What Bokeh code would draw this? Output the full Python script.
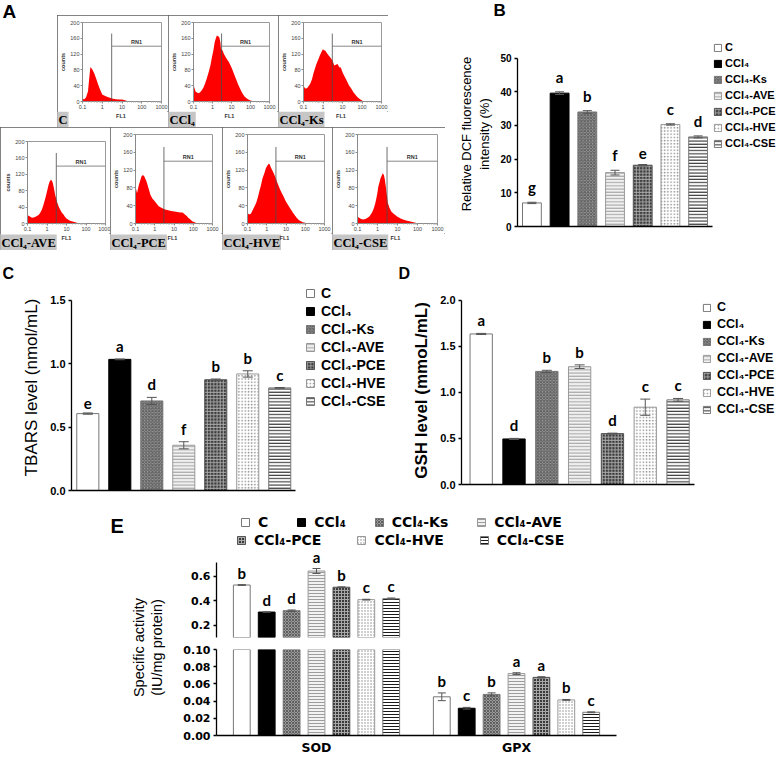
import math
from bokeh.plotting import figure
from bokeh.models import (Range1d, FactorRange, FixedTicker, Legend, LegendItem, Label,
                          Whisker, TeeHead, ColumnDataSource, PrintfTickFormatter,
                          CustomJSTickFormatter, Spacer)
from bokeh.layouts import row, column
from bokeh.transform import dodge
from bokeh.core.properties import value
from bokeh.embed import file_html
from bokeh.resources import INLINE

# ---------------- data ----------------
groups = ["C", "CCl₄", "CCl₄-Ks", "CCl₄-AVE", "CCl₄-PCE", "CCl₄-HVE", "CCl₄-CSE"]

# Panel A : flow-cytometry histograms (FL1 intensity, counts)
fl1_C = [0.1, 0.101, 0.12, 0.15, 0.19, 0.22, 0.25, 0.28, 0.33, 0.4, 0.49, 0.6, 0.72, 1.0, 1.5, 2.2, 3.5, 4.7, 7, 10, 14, 17, 20]
cnt_C = [110, 8, 5, 10, 26, 60, 87, 85, 79, 70, 58, 45, 34, 18, 13, 10, 7, 6, 5, 5, 3, 2, 0]
fl1_CCl4 = [0.1, 0.11, 0.13, 0.16, 0.19, 0.23, 0.28, 0.34, 0.41, 0.5, 0.63, 0.78, 0.93, 1.1, 1.3, 1.5, 1.7, 2.0, 2.3, 2.6,
            2.8, 3.1, 3.4, 4.0, 5.0, 6.0, 7.3, 8.8, 10.7, 13, 15.7, 19, 23, 28, 34, 41, 50, 60, 73, 88, 107, 130, 160]
cnt_CCl4 = [46, 35, 25, 22, 21, 24, 29, 36, 46, 58, 75, 92, 112, 128, 150, 160, 167, 165, 162, 150,
            133, 131, 129, 120, 112, 106, 100, 92, 83, 72, 62, 52, 42, 33, 25, 18, 12, 9, 6, 4, 2, 1, 0]
fl1_Ks = [0.1, 0.11, 0.13, 0.16, 0.22, 0.27, 0.32, 0.38, 0.46, 0.56, 0.68, 0.82, 1.0, 1.1, 1.3, 1.6, 2.0, 2.5, 3.1,
          3.8, 4.6, 5.6, 6.8, 8.2, 10, 12, 15, 18, 22, 27, 32, 38, 46, 56, 68, 82, 100, 110]
cnt_Ks = [40, 36, 32, 35, 45, 56, 70, 82, 95, 105, 116, 125, 133, 130, 129, 122, 116, 110, 103,
          91, 93, 95, 87, 86, 74, 66, 57, 49, 40, 34, 28, 22, 17, 12, 8, 5, 3, 0]
fl1_AVE = [0.1, 0.102, 0.12, 0.17, 0.23, 0.3, 0.37, 0.45, 0.55, 0.66, 0.8, 1.0, 1.17, 1.35, 1.6, 1.8, 2.0, 2.3,
           2.6, 3.2, 3.9, 4.7, 5.7, 7, 8.5, 10, 15, 23, 34, 45]
cnt_AVE = [34, 20, 18, 14, 15, 18, 21, 26, 34, 46, 60, 78, 92, 102, 107, 104, 98, 85,
           70, 54, 42, 34, 27, 22, 16, 12, 7, 4, 2, 0]
fl1_PCE = [0.1, 0.105, 0.12, 0.15, 0.18, 0.2, 0.24, 0.28, 0.32, 0.37, 0.42, 0.5, 0.6, 0.75, 1.0, 1.3, 1.6, 2.1,
           2.8, 3.8, 5.0, 7, 10.5, 15, 21, 28, 37, 46, 55, 67, 80, 98, 118, 140, 160]
cnt_PCE = [98, 80, 68, 87, 98, 105, 109, 107, 101, 95, 87, 76, 64, 56, 50, 44, 39, 36,
           33, 31, 30, 28, 27, 26, 25, 25, 20, 17, 13, 10, 7, 4, 3, 1, 0]
fl1_HVE = [0.1, 0.12, 0.15, 0.19, 0.23, 0.28, 0.34, 0.41, 0.5, 0.6, 0.75, 0.9, 1.1, 1.3, 1.45, 1.6, 1.9, 2.3, 2.8,
           3.4, 4.1, 5.0, 6.1, 7.4, 9, 11, 13, 16, 19, 23, 28, 34, 41, 50, 60, 73, 88, 107, 125]
cnt_HVE = [24, 20, 22, 31, 38, 46, 58, 72, 86, 101, 113, 124, 131, 135, 132, 127, 120, 113, 104,
           94, 85, 76, 68, 61, 53, 46, 41, 35, 30, 24, 19, 14, 10, 7, 5, 3, 2, 1, 0]
fl1_CSE = [0.1, 0.102, 0.12, 0.15, 0.19, 0.25, 0.32, 0.39, 0.46, 0.55, 0.66, 0.77, 0.88, 1.0, 1.1, 1.25, 1.4, 1.6,
           1.8, 2.0, 2.1, 2.3, 2.6, 2.9, 3.3, 4.0, 4.9, 6.0, 7.2, 10, 16, 27, 50, 90, 110]
cnt_CSE = [35, 15, 13, 10, 9, 10, 13, 16, 20, 26, 35, 45, 57, 70, 83, 92, 101, 107,
           113, 110, 109, 100, 83, 66, 46, 35, 27, 23, 20, 15, 10, 7, 4, 1, 0]
gate_fl1 = 3.0
gate_top = 172
rn1_count = 140
rn1_fl1 = 55
fl1_ticks = [0.1, 1, 10, 100, 1000]
count_ticks = [0, 40, 80, 120, 160, 200]

# Panel B : relative DCF fluorescence intensity (%)
dcf_vals = [7.0, 39.6, 34.0, 16.0, 18.2, 30.3, 26.6]
dcf_err = [0.2, 0.4, 0.4, 0.7, 0.2, 0.2, 0.3]
dcf_letters = ["g", "a", "b", "f", "e", "c", "d"]

# Panel C : TBARS level (nmol/mL)
tbars_vals = [0.607, 1.035, 0.707, 0.357, 0.874, 0.92, 0.81]
tbars_err = [0.005, 0.003, 0.028, 0.028, 0.006, 0.025, 0.003]
tbars_letters = ["e", "a", "d", "f", "b", "b", "c"]

# Panel D : GSH level (mmoL/mL)
gsh_vals = [1.636, 0.495, 1.229, 1.28, 0.553, 0.84, 0.92]
gsh_err = [0.006, 0.006, 0.012, 0.02, 0.005, 0.088, 0.015]
gsh_letters = ["a", "d", "b", "b", "d", "c", "c"]

# Panel E : specific activity (IU/mg protein)
enzymes = ["SOD", "GPX"]
sod_vals = [0.527, 0.307, 0.318, 0.641, 0.509, 0.408, 0.416]
sod_err = [0.003, 0.002, 0.006, 0.02, 0.003, 0.003, 0.005]
sod_letters = ["b", "d", "d", "a", "b", "c", "c"]
gpx_vals = [0.045, 0.0317, 0.0478, 0.072, 0.0676, 0.0414, 0.027]
gpx_err = [0.0045, 0.001, 0.0018, 0.001, 0.0008, 0.0005, 0.0005]
gpx_letters = ["b", "c", "b", "a", "a", "b", "c"]

# ---------------- styles ----------------
fills = ["white", "black", "#9a9a9a", "#f2f2f2", "#3a3a3a", "white", "white"]
hatches = [" ", " ", "x", "-", "+", ".", "-"]
hatch_colors = ["white", "black", "#5f5f5f", "#9c9c9c", "#a8a8a8", "#8a8a8a", "#1a1a1a"]
line_colors = ["#777777", "black", "#777777", "#999999", "#555555", "#999999", "#777777"]

SANS = "Liberation Sans"
WIDE = "DejaVu Sans"
BOX = {"outline": "1px solid #5a5a5a", "outline-offset": "-1px"}


def fig(**kw):
    return figure(output_backend="svg", toolbar_location=None, **kw)


def blank(w, h):
    p = fig(width=w, height=h, x_range=Range1d(0, 1), y_range=Range1d(0, 1), min_border=0,
            x_axis_location=None, y_axis_location=None)
    p.grid.visible = False
    p.outline_line_color = None
    return p


def tag(p, x, y, text, size):
    p.add_layout(Label(x=x, y=y, x_units="screen", y_units="screen", text=text, text_font=SANS,
                       text_font_style="bold", text_font_size=size, text_baseline="top", text_align="left",
                       text_color="black"))


# ---------------- Panel A ----------------
def hist_box(w, h_fig, h_strip, bl, br, bt, bb, fl1, cnt, name):
    p = fig(width=w, height=h_fig, x_axis_type="log", x_range=Range1d(0.1, 1000), y_range=Range1d(0, 200),
            min_border_left=bl, min_border_right=br, min_border_top=bt, min_border_bottom=bb)
    p.grid.visible = False
    p.outline_line_color = "#9a9a9a"
    p.varea(x=fl1, y1=0, y2=cnt, fill_color="#ff0000")
    p.segment(x0=[gate_fl1], y0=[0], x1=[gate_fl1], y1=[gate_top], line_color="#4a4a4a", line_width=0.8)
    p.segment(x0=[gate_fl1], y0=[rn1_count], x1=[1000], y1=[rn1_count], line_color="#6a6a6a", line_width=0.8)
    p.text(x=[rn1_fl1], y=[rn1_count], text=["RN1"], text_align="center", text_baseline="bottom",
           y_offset=-1, text_font=value(SANS), text_font_size="5.5px", text_font_style="bold", text_color="#333333")
    minor = [m * d for d in (0.1, 1, 10, 100) for m in range(2, 10)]
    p.xaxis.ticker = FixedTicker(ticks=fl1_ticks, minor_ticks=minor)
    p.xaxis.formatter = CustomJSTickFormatter(code="return String(tick);")
    p.yaxis.ticker = FixedTicker(ticks=count_ticks)
    p.yaxis.axis_label = "counts"
    for ax in p.axis:
        ax.axis_line_color = "#8a8a8a"
        ax.major_tick_line_color = "#8a8a8a"
        ax.minor_tick_line_color = "#aaaaaa"
        ax.major_tick_out = 2
        ax.major_tick_in = 0
        ax.minor_tick_out = 1
        ax.minor_tick_in = 0
        ax.major_label_text_font = SANS
        ax.major_label_text_font_size = "5.5px"
        ax.major_label_text_color = "#444444"
        ax.major_label_standoff = 1
        ax.axis_label_text_font = SANS
        ax.axis_label_text_font_size = "5.5px"
        ax.axis_label_text_font_style = "bold"
        ax.axis_label_text_color = "#333333"
        ax.axis_label_standoff = 1
    s = blank(w, h_strip)
    s.add_layout(Label(x=0, y=0, x_units="screen", y_units="screen", text=name,
                       text_font="Liberation Serif", text_font_style="bold", text_font_size="12.5px",
                       text_color="black", text_align="left", text_baseline="bottom",
                       background_fill_color="#c6c6c6", padding=1))
    s.add_layout(Label(x=bl + (w - bl - br) / 2, y=h_strip - 1, x_units="screen", y_units="screen", text="FL1",
                       text_font=SANS, text_font_style="bold", text_font_size="5.5px", text_color="#333333",
                       text_align="center", text_baseline="top"))
    return column(row(p), row(s), styles=BOX)


hist_data = [(fl1_C, cnt_C), (fl1_CCl4, cnt_CCl4), (fl1_Ks, cnt_Ks), (fl1_AVE, cnt_AVE),
             (fl1_PCE, cnt_PCE), (fl1_HVE, cnt_HVE), (fl1_CSE, cnt_CSE)]
box_specs = [(111, 96, 16, 23, 7, 7, 9), (110, 96, 16, 21, 9, 7, 9), (110, 96, 16, 22, 7, 7, 9),
             (110, 106, 17, 27, 5, 14, 9), (112, 106, 17, 22, 10, 7, 9), (110, 106, 17, 22, 8, 7, 9),
             (113, 106, 17, 21, 8, 7, 9)]
boxes = [hist_box(*box_specs[i], hist_data[i][0], hist_data[i][1], groups[i]) for i in range(7)]

fa = blank(57, 127)
tag(fa, 2, 127, "A", "19px")
top_line = row(fa, column(Spacer(width=331, height=15), row(*boxes[:3])), Spacer(width=57, height=127))
A_block = column(top_line, row(*boxes[3:]), Spacer(width=445, height=6))


# ---------------- bar panels ----------------
def style_axes(p, tick_size, tick_font=SANS):
    p.grid.visible = False
    p.outline_line_color = None
    for ax in p.axis:
        ax.axis_line_color = "black"
        ax.axis_line_width = 1.3
        ax.major_tick_line_color = "black"
        ax.major_tick_line_width = 1.3
        ax.major_tick_out = 3
        ax.major_tick_in = 0
        ax.minor_tick_line_color = None
        ax.major_label_text_font = tick_font
        ax.major_label_text_font_size = tick_size
        ax.major_label_text_font_style = "bold"
        ax.major_label_text_color = "black"
        ax.major_label_standoff = 3


def bar_panel(w, h, bl, br, bt, bb, xlo, xhi, xbound, ytop, ybound, yticks, fmt, vals, errs, letters, ylabel,
              ylab_size, ylab_style, ylab_standoff, tick_size, bar_w, head, letter_off, leg_loc, leg_font,
              leg_glyph, leg_spacing, leg_standoff):
    # one slot per treatment group along the x axis
    pos = list(range(1, len(groups) + 1))
    p = fig(width=w, height=h, x_range=Range1d(xlo, xhi), y_range=Range1d(0, ytop),
            min_border_left=bl, min_border_right=br, min_border_top=bt, min_border_bottom=bb)
    style_axes(p, tick_size)
    p.yaxis.ticker = FixedTicker(ticks=yticks)
    p.yaxis.formatter = PrintfTickFormatter(format=fmt)
    p.yaxis.bounds = (0, ybound)
    p.xaxis.ticker = FixedTicker(ticks=[])
    p.xaxis.bounds = (xlo, xbound)
    p.yaxis.axis_label = ylabel
    p.yaxis.axis_label_text_font = SANS
    p.yaxis.axis_label_text_font_size = ylab_size
    p.yaxis.axis_label_text_font_style = ylab_style
    p.yaxis.axis_label_text_color = "black"
    p.yaxis.axis_label_standoff = ylab_standoff
    src = ColumnDataSource(dict(pos=pos, grp=groups, val=vals,
                                lo=[v - e for v, e in zip(vals, errs)],
                                hi=[v + e for v, e in zip(vals, errs)],
                                letter=letters, fill=fills, hatch=hatches, hcolor=hatch_colors, line=line_colors))
    r = p.vbar(x="pos", top="val", bottom=0, width=bar_w, source=src, fill_color="fill", line_color="line",
               line_width=1, hatch_pattern="hatch", hatch_color="hcolor", hatch_scale=3.2, hatch_weight=1)
    p.add_layout(Whisker(source=src, base="pos", upper="hi", lower="lo", level="overlay",
                         line_color="#555555", line_width=1,
                         upper_head=TeeHead(size=head, line_color="#555555", line_width=1),
                         lower_head=TeeHead(size=head, line_color="#555555", line_width=1)))
    p.text(x="pos", y="hi", text="letter", source=src, text_align="center", text_baseline="bottom",
           y_offset=-letter_off, text_font=value("Lato"), text_font_style="bold", text_font_size="15px",
           text_color="black")
    items = [LegendItem(label=value(g), renderers=[r], index=i) for i, g in enumerate(groups)]
    leg = Legend(items=items, location=leg_loc, orientation="vertical", padding=0, margin=0, spacing=leg_spacing,
                 glyph_width=leg_glyph, glyph_height=leg_glyph, label_standoff=leg_standoff, label_height=6,
                 label_width=5, label_text_font=SANS, label_text_font_size=leg_font, label_text_font_style="bold",
                 label_text_color="black", label_text_baseline="middle", border_line_color=None,
                 background_fill_alpha=0)
    p.add_layout(leg)
    return p


figB = bar_panel(333, 236, 72, 2, 21, 30, 0.48, 9.83, 7.52, 54.93, 50, [0, 10, 20, 30, 40, 50], "%d",
                 dcf_vals, dcf_err, dcf_letters, "Relative DCF fluorescence\nintensity (%)", "13px", "normal", 5,
                 "10px", 0.68, 9, 6, (196, 77), "11px", 9, 4, 3)
stripB = blank(333, 20)
tag(stripB, 48, 20, "B", "17px")

figC = bar_panel(398, 220, 71, 2, 0, 14, 0.49, 10.65, 7.49, 1.626, 1.5, [0, 0.5, 1.0, 1.5], "%.1f",
                 tbars_vals, tbars_err, tbars_letters, "TBARS level (nmol/mL)", "17px", "normal", 6,
                 "11px", 0.69, 10, 4, (234, 81), "14px", 10, 2, 6)

figD = bar_panel(380, 220, 63, 2, 12, 20, 0.4, 10.0, 7.51, 2.043, 2.0, [0, 0.5, 1.0, 1.5, 2.0], "%.1f",
                 gsh_vals, gsh_err, gsh_letters, "GSH level (mmoL/mL)", "17px", "bold", 6,
                 "11px", 0.68, 10, 4, (241, 68), "12.5px", 9, 3, 6)

strip2 = blank(778, 28)
tag(strip2, 2, 20, "C", "16px")
tag(strip2, 398, 20, "D", "16px")

# ---------------- Panel E ----------------
xr_e = FactorRange(factors=enzymes)
e_offsets = [(i - 3) * 0.1245 for i in range(7)]
e_bar_w = 0.084

lab = blank(168, 253)
tag(lab, 110, 243, "E", "20px")
lab.add_layout(Label(x=138, y=110, x_units="screen", y_units="screen", text="Specific activity", angle=math.pi / 2,
                     text_font=SANS, text_font_size="14.5px", text_align="center", text_baseline="middle",
                     text_color="black"))
lab.add_layout(Label(x=156, y=110, x_units="screen", y_units="screen", text="(IU/mg protein)", angle=math.pi / 2,
                     text_font=SANS, text_font_size="14.5px", text_align="center", text_baseline="middle",
                     text_color="black"))

upper = fig(width=610, height=139, x_range=xr_e, y_range=Range1d(0.1, 1.1167), min_border_left=48,
            min_border_right=162, min_border_top=8, min_border_bottom=6, x_axis_location=None)
lower = fig(width=610, height=114, x_range=xr_e, y_range=Range1d(0, 0.1), min_border_left=48,
            min_border_right=162, min_border_top=6, min_border_bottom=16)
for p in (upper, lower):
    style_axes(p, "11px", WIDE)
upper.yaxis.ticker = FixedTicker(ticks=[0.2, 0.4, 0.6])
upper.yaxis.formatter = PrintfTickFormatter(format="%.1f")
upper.yaxis.bounds = (0.1, 0.71)
lower.yaxis.ticker = FixedTicker(ticks=[0, 0.02, 0.04, 0.06, 0.08, 0.10])
lower.yaxis.formatter = PrintfTickFormatter(format="%.2f")
lower.xaxis.major_tick_line_color = None
lower.xaxis.major_label_text_font_size = "12.5px"
lower.xaxis.major_label_standoff = 1

upper_renderers = []
for i in range(7):
    src_u = ColumnDataSource(dict(enzyme=["SOD"], val=[sod_vals[i]], lo=[sod_vals[i] - sod_err[i]],
                                  hi=[sod_vals[i] + sod_err[i]], letter=[sod_letters[i]]))
    src_all = ColumnDataSource(dict(enzyme=enzymes, val=[sod_vals[i], gpx_vals[i]]))
    src_l = ColumnDataSource(dict(enzyme=["GPX"], lo=[gpx_vals[i] - gpx_err[i]], hi=[gpx_vals[i] + gpx_err[i]],
                                  letter=[gpx_letters[i]]))
    for p, bsrc, s in ((upper, src_u, src_u), (lower, src_all, src_l)):
        r = p.vbar(x=dodge("enzyme", e_offsets[i], range=xr_e), top="val", bottom=0, width=e_bar_w, source=bsrc,
                   fill_color=fills[i], line_color=line_colors[i], line_width=1, hatch_pattern=hatches[i],
                   hatch_color=hatch_colors[i], hatch_scale=3.0, hatch_weight=1)
        p.add_layout(Whisker(source=s, base=dodge("enzyme", e_offsets[i], range=xr_e), upper="hi", lower="lo",
                             level="overlay", line_color="#555555", line_width=1,
                             upper_head=TeeHead(size=8, line_color="#555555", line_width=1),
                             lower_head=TeeHead(size=8, line_color="#555555", line_width=1)))
        p.text(x=dodge("enzyme", e_offsets[i], range=xr_e), y="hi", text="letter", source=s,
               text_align="center", text_baseline="bottom", y_offset=-3, text_font=value("Lato"),
               text_font_style="bold", text_font_size="15px", text_color="black")
        if p is upper:
            upper_renderers.append(r)


def e_legend(idx, loc, spacing):
    items = [LegendItem(label=value(groups[i]), renderers=[upper_renderers[i]]) for i in idx]
    return Legend(items=items, location=loc, orientation="horizontal", padding=0, margin=0, spacing=spacing,
                  glyph_width=10, glyph_height=10, label_standoff=8, label_height=6, label_width=5,
                  label_text_font=WIDE, label_text_font_size="14px", label_text_font_style="bold",
                  label_text_color="black", label_text_baseline="middle", border_line_color=None,
                  background_fill_alpha=0)


upper.add_layout(e_legend([0, 1, 2, 3], (24, 107), 28))
upper.add_layout(e_legend([4, 5, 6], (20, 89), 35))

row1 = row(A_block, column(row(stripB), row(figB)))
row2 = column(strip2, row(column(figC), column(figD)))
row3 = row(lab, column(upper, lower))
layout = column(row1, row2, row3)

open("out.html", "w").write(file_html(layout, INLINE))
